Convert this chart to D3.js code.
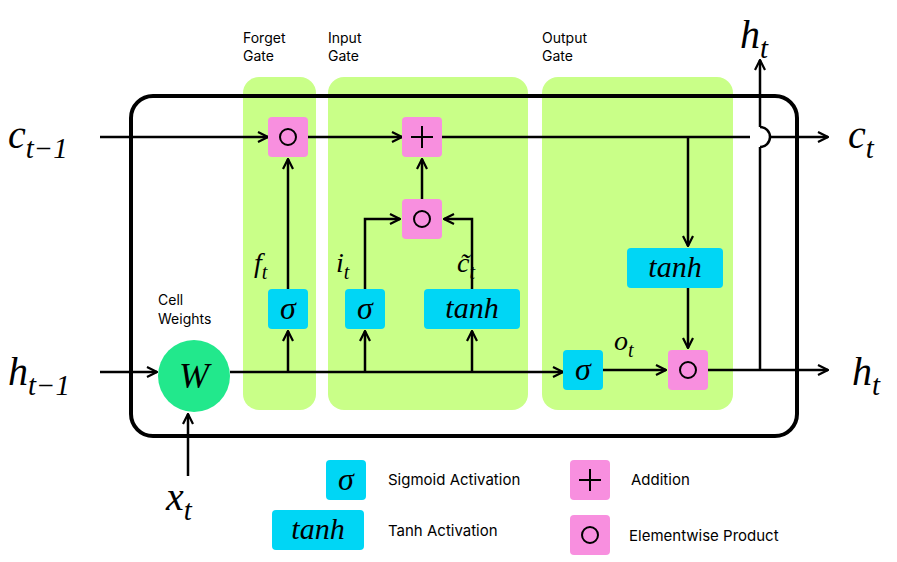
<!DOCTYPE html>
<html><head><meta charset="utf-8">
<script src="https://cdn.jsdelivr.net/npm/d3@7"></script>
<style>body{margin:0;background:#fff}</style>
</head><body>
<script>
const width = 897, height = 562;
const GREEN = '#c9ff88', CYAN = '#00d6f5', PINK = '#f88fdf', WGREEN = '#22e88c';

// gate panels
const gates = [
  {name: ['Forget', 'Gate'], x0: 243, x1: 316},
  {name: ['Input', 'Gate'], x0: 328, x1: 528},
  {name: ['Output', 'Gate'], x0: 542, x1: 733}
];
// operation nodes: kind, centre, width
const nodes = [
  {kind: 'mul', cx: 288, cy: 137, w: 40},
  {kind: 'add', cx: 422, cy: 137, w: 40},
  {kind: 'mul', cx: 422, cy: 219, w: 40},
  {kind: 'mul', cx: 688, cy: 370, w: 40},
  {kind: 'sig', cx: 288, cy: 309, w: 40},
  {kind: 'sig', cx: 365, cy: 309, w: 40},
  {kind: 'tanh', cx: 472, cy: 309, w: 96},
  {kind: 'tanh', cx: 675, cy: 268, w: 96},
  {kind: 'sig', cx: 583, cy: 370, w: 40},
  {kind: 'sig', cx: 346, cy: 480, w: 40},
  {kind: 'tanh', cx: 318, cy: 530, w: 92},
  {kind: 'add', cx: 590, cy: 480, w: 40},
  {kind: 'mul', cx: 590, cy: 535, w: 40}
];
// connecting paths (polyline points), arrow at end if arrow true
const links = [
  {pts: [[100,137],[268,137]], arrow: true},
  {pts: [[308,137],[402,137]], arrow: true},
  {pts: [[442,137],[750,137]], arrow: false},
  {pts: [[770,137],[828,137]], arrow: true},
  {pts: [[100,372],[157,372]], arrow: true},
  {pts: [[230,372],[563,372]], arrow: true},
  {pts: [[288,372],[288,331]], arrow: true},
  {pts: [[365,372],[365,331]], arrow: true},
  {pts: [[472,372],[472,331]], arrow: true},
  {pts: [[288,289],[288,159]], arrow: true},
  {pts: [[365,289],[365,219],[400,219]], arrow: true},
  {pts: [[472,289],[472,219],[444,219]], arrow: true},
  {pts: [[422,199],[422,159]], arrow: true},
  {pts: [[688,137],[688,246]], arrow: true},
  {pts: [[688,288],[688,348]], arrow: true},
  {pts: [[603,370],[666,370]], arrow: true},
  {pts: [[708,370],[828,370]], arrow: true},
  {pts: [[760,370],[760,147]], arrow: false},
  {pts: [[760,127],[760,60]], arrow: true},
  {pts: [[188,476],[188,414]], arrow: true}
];
// math labels: base, subscript, position
const mathLabels = [
  {b: 'c', s: 't\u22121', x: 8, y: 148, size: 40},
  {b: 'c', s: 't', x: 848, y: 148, size: 40},
  {b: 'h', s: 't\u22121', x: 8, y: 385, size: 40},
  {b: 'h', s: 't', x: 852, y: 385, size: 40},
  {b: 'h', s: 't', x: 740, y: 48, size: 40},
  {b: 'x', s: 't', x: 166, y: 510, size: 40},
  {b: 'f', s: 't', x: 254, y: 272, size: 28},
  {b: 'i', s: 't', x: 336, y: 272, size: 28},
  {b: 'c\u0303', s: 't', x: 457, y: 272, size: 28},
  {b: 'o', s: 't', x: 614, y: 350, size: 28}
];
const legendText = [
  {t: 'Sigmoid Activation', x: 388, y: 485},
  {t: 'Tanh Activation', x: 388, y: 536},
  {t: 'Addition', x: 631, y: 485},
  {t: 'Elementwise Product', x: 629, y: 541}
];

const svg = d3.select('body').append('svg').attr('width', width).attr('height', height);
svg.append('defs').append('marker')
  .attr('id', 'arr').attr('viewBox', '0 0 12 12').attr('refX', 11).attr('refY', 6)
  .attr('markerWidth', 12).attr('markerHeight', 12).attr('markerUnits', 'userSpaceOnUse')
  .attr('orient', 'auto')
  .append('path').attr('d', 'M1,1 L11,6 L1,11').attr('fill', 'none').attr('stroke', '#000').attr('stroke-width', 2.2);

const font = 'Inter, "Noto Sans", sans-serif';
const mfont = '"Liberation Serif", "DejaVu Serif", serif';

svg.selectAll('rect.gate').data(gates).join('rect')
  .attr('x', d => d.x0).attr('y', 77).attr('width', d => d.x1 - d.x0).attr('height', 333)
  .attr('rx', 16).attr('fill', GREEN);
svg.selectAll('text.gname').data(gates).join('text')
  .attr('font-family', font).attr('font-size', 14).attr('x', d => d.x0)
  .selectAll('tspan').data(d => d.name.map(n => ({n, x: d.x0}))).join('tspan')
  .attr('x', d => d.x).attr('y', (d, i) => 43 + i * 18).text(d => d.n);

svg.append('rect').attr('x', 131).attr('y', 96).attr('width', 666).attr('height', 340)
  .attr('rx', 22).attr('fill', 'none').attr('stroke', '#000').attr('stroke-width', 4);

const line = d3.line();
svg.selectAll('path.link').data(links).join('path')
  .attr('d', d => line(d.pts)).attr('fill', 'none').attr('stroke', '#000').attr('stroke-width', 2.5)
  .attr('marker-end', d => d.arrow ? 'url(#arr)' : null);
// hop over c line
svg.append('path').attr('d', 'M760,147 A10,10 0 0 0 760,127').attr('fill', 'none')
  .attr('stroke', '#000').attr('stroke-width', 2.5);

// W
svg.append('circle').attr('cx', 194).attr('cy', 376).attr('r', 36).attr('fill', WGREEN);
svg.append('text').attr('x', 194).attr('y', 388).attr('text-anchor', 'middle')
  .attr('font-family', mfont).attr('font-style', 'italic').attr('font-size', 36).text('W');
svg.append('text').attr('font-family', font).attr('font-size', 14)
  .selectAll('tspan').data(['Cell', 'Weights']).join('tspan')
  .attr('x', 158).attr('y', (d, i) => 305 + i * 19).text(d => d);

const g = svg.selectAll('g.node').data(nodes).join('g')
  .attr('transform', d => `translate(${d.cx},${d.cy})`);
g.append('rect').attr('x', d => -d.w / 2).attr('y', -20).attr('width', d => d.w).attr('height', 40)
  .attr('rx', 4).attr('fill', d => (d.kind === 'mul' || d.kind === 'add') ? PINK : CYAN);
g.filter(d => d.kind === 'mul').append('circle').attr('r', 8).attr('fill', 'none')
  .attr('stroke', '#000').attr('stroke-width', 2);
g.filter(d => d.kind === 'add').append('path').attr('d', 'M-11,0H11M0,-11V11')
  .attr('stroke', '#000').attr('stroke-width', 2);
g.filter(d => d.kind === 'sig').append('text').attr('y', 10).attr('text-anchor', 'middle')
  .attr('font-family', mfont).attr('font-style', 'italic').attr('font-size', 32).text('\u03c3');
g.filter(d => d.kind === 'tanh').append('text').attr('y', 9).attr('text-anchor', 'middle')
  .attr('font-family', mfont).attr('font-style', 'italic').attr('font-size', 30).text('tanh');

const ml = svg.selectAll('text.math').data(mathLabels).join('text')
  .attr('x', d => d.x).attr('y', d => d.y).attr('font-family', mfont).attr('font-style', 'italic')
  .attr('font-size', d => d.size);
ml.append('tspan').text(d => d.b);
ml.append('tspan').attr('dy', d => d.size * 0.25).attr('font-size', d => d.size * 0.72).text(d => d.s);

svg.selectAll('text.leg').data(legendText).join('text')
  .attr('x', d => d.x).attr('y', d => d.y).attr('font-family', font).attr('font-size', 15).text(d => d.t);
</script>
</body></html>
